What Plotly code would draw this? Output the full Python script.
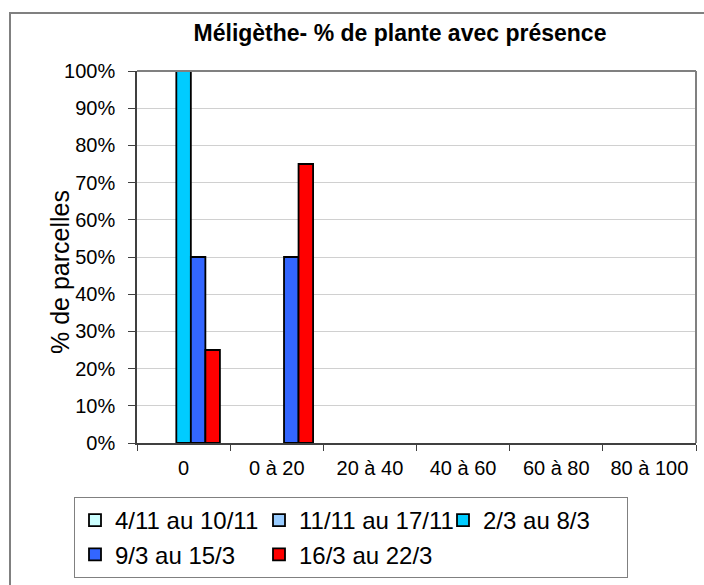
import plotly.graph_objects as go

# Classes d'infestation (axe X)
categories = ["0", "0 à 20", "20 à 40", "40 à 60", "60 à 80", "80 à 100"]

# Périodes d'observation et leurs valeurs (% de parcelles)
series_names = ["4/11 au 10/11", "11/11 au 17/11", "2/3 au 8/3", "9/3 au 15/3", "16/3 au 22/3"]
s_4_11 = [0, 0, 0, 0, 0, 0]
s_11_11 = [0, 0, 0, 0, 0, 0]
s_2_3 = [1.00, 0, 0, 0, 0, 0]
s_9_3 = [0.50, 0.50, 0, 0, 0, 0]
s_16_3 = [0.25, 0.75, 0, 0, 0, 0]

y_ticks = [0, 0.1, 0.2, 0.3, 0.4, 0.5, 0.6, 0.7, 0.8, 0.9, 1.0]

colors = ["#CCFFFF", "#99CCFF", "#00CCFF", "#3366FF", "#FF0000"]
FONT = "Liberation Sans, Arial, sans-serif"

W, H = 704, 585
L, R, T, B = 137, 8, 71, 142
pw, ph = W - L - R, H - T - B


def px_x(x):
    # pixel -> coordonnée paper (horizontal)
    return (x - L) / pw


def px_y(y):
    # pixel -> coordonnée paper (vertical)
    return (H - B - y) / ph


fig = go.Figure()

for name, vals, col in zip(series_names, [s_4_11, s_11_11, s_2_3, s_9_3, s_16_3], colors):
    fig.add_trace(go.Bar(
        x=categories,
        # les barres nulles ne sont pas dessinées (comme dans Excel)
        y=[v if v > 0 else None for v in vals],
        name=name,
        marker=dict(color=col, line=dict(color="black", width=1.8)),
    ))

# Cadre du graphique (déborde à droite et en bas)
fig.add_shape(type="rect", xref="paper", yref="paper",
              x0=px_x(10), x1=px_x(760), y0=px_y(640), y1=px_y(13),
              line=dict(color="#808080", width=2), layer="below")

# Bordure de la zone de tracé (haut et droite en gris)
fig.add_shape(type="line", xref="paper", yref="paper",
              x0=0, x1=1, y0=1, y1=1, line=dict(color="#808080", width=2))
fig.add_shape(type="line", xref="paper", yref="paper",
              x0=1, x1=1, y0=0, y1=1, line=dict(color="#808080", width=2))

# Titre de l'axe Y
fig.add_annotation(
    text="% de parcelles", xref="paper", yref="paper",
    x=px_x(44), y=px_y(272), textangle=-90, showarrow=False,
    font=dict(family=FONT, size=25, color="black"),
)

fig.update_layout(
    width=W,
    height=H,
    title=dict(
        text="<b>Méligèthe- % de plante avec présence</b>",
        x=400 / W, xanchor="center",
        y=1 - 33 / H, yanchor="middle",
        font=dict(family=FONT, size=23, color="black"),
    ),
    barmode="group",
    bargap=0.22,
    bargroupgap=0,
    plot_bgcolor="white",
    paper_bgcolor="white",
    margin=dict(l=L, r=R, t=T, b=B, autoexpand=False),
    font=dict(family=FONT, size=20, color="black"),
    legend=dict(
        orientation="h",
        x=px_x(74), xanchor="left",
        y=px_y(497), yanchor="top",
        bordercolor="#808080", borderwidth=1,
        font=dict(family=FONT, size=24, color="black"),
        entrywidth=139, entrywidthmode="pixels",
        traceorder="normal",
    ),
)

fig.update_xaxes(
    showline=True, linecolor="#404040", linewidth=1.5,
    ticks="outside", tickson="boundaries", ticklen=6, tickcolor="#404040",
    ticklabelstandoff=6,
    showgrid=False,
    tickfont=dict(family=FONT, size=20, color="black"),
)

fig.update_yaxes(
    range=[0, 1], tickvals=y_ticks, tickformat=".0%",
    showline=True, linecolor="#404040", linewidth=1.5,
    ticks="outside", ticklen=7, tickcolor="#404040",
    ticklabelstandoff=9,
    showgrid=True, gridcolor="#D0D0D0", gridwidth=1,
    zeroline=False,
    tickfont=dict(family=FONT, size=20, color="black"),
)

# marge du <body> à zéro pour que la figure occupe toute la fenêtre
fig.write_html(
    "out.html",
    config={"displayModeBar": False},
    post_script="document.body.style.margin='0';",
)
